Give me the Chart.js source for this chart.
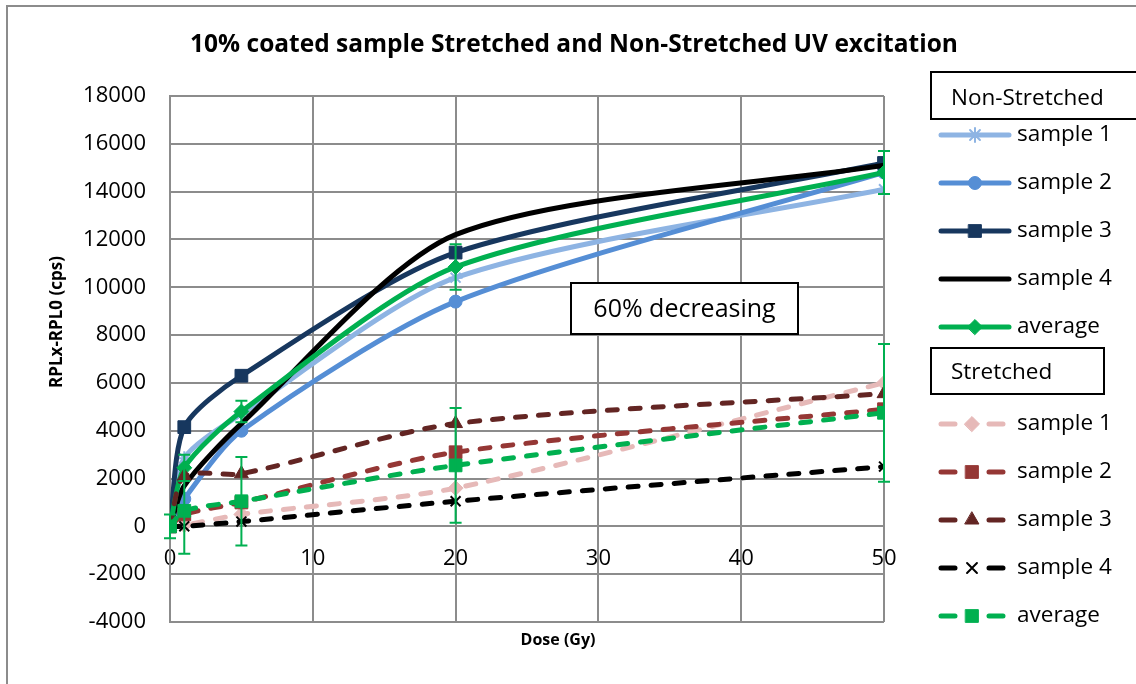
<!DOCTYPE html>
<html>
<head>
<meta charset="utf-8">
<script src="https://cdn.jsdelivr.net/npm/chart.js@4.4.0/dist/chart.umd.min.js"></script>
<style>
html, body { margin: 0; padding: 0; background: #fff; overflow: hidden; }
#wrap { position: relative; width: 1136px; height: 684px; }
#frame { position: absolute; left: 6px; top: 5px; width: 1150px; height: 700px; border: 2px solid #8c8c8c; box-sizing: border-box; pointer-events: none; }
canvas { position: absolute; left: 0; top: 0; }
</style>
</head>
<body>
<div id="wrap">
  <canvas id="myChart" width="1136" height="684"></canvas>
  <div id="frame"></div>
</div>
<script>
// dose points (Gy)
const doses = [0, 1, 5, 20, 50];

// Non-Stretched
const nsSample1 = [0, 2850, 4700, 10400, 14100];
const nsSample2 = [0, 1150, 4000, 9400, 14800];
const nsSample3 = [0, 4150, 6300, 11450, 15200];
const nsSample4 = [0, 1700, 4300, 12200, 15100];
const nsAverage = [0, 2450, 4800, 10850, 14800];
const nsAverageErr = [0, 550, 450, 950, 900];

// Stretched
const stSample1 = [0, 50, 500, 1600, 6000];
const stSample2 = [0, 500, 1000, 3100, 4900];
const stSample3 = [0, 2100, 2200, 4300, 5550];
const stSample4 = [0, 0, 200, 1050, 2500];
const stAverage = [0, 650, 1050, 2550, 4750];
const stAverageErr = [500, 1800, 1850, 2400, 2880];

const legendGroups = ['Non-Stretched', 'Stretched'];
const titleText = '10% coated sample Stretched and Non-Stretched UV excitation';
const noteText = '60% decreasing';

const FONT = "'Open Sans', sans-serif";
const GRID = '#8c8c8c';

function pts(vals) {
    return doses.map((d, i) => ({x: d, y: vals[i]}));
}

function series(label, vals, color, style, radius, dashed, extra) {
    return Object.assign({
        label: label,
        data: pts(vals),
        borderColor: color,
        backgroundColor: color,
        pointBackgroundColor: color,
        pointBorderColor: color,
        pointStyle: style,
        pointRadius: radius,
        pointBorderWidth: 1,
        borderWidth: 5,
        borderDash: dashed ? [10, 13] : [],
        borderCapStyle: 'round',
        tension: 0.26,
        fill: false,
        group: dashed ? 1 : 0
    }, extra || {});
}

const datasets = [
    series('sample 1', nsSample1, '#8eb4e3', 'star', 7, false, {pointBorderWidth: 2}),
    series('sample 2', nsSample2, '#558ed5', 'circle', 6.5, false),
    series('sample 3', nsSample3, '#17375e', 'rect', 9, false),
    series('sample 4', nsSample4, '#000000', false, 0, false),
    series('average', nsAverage, '#00b050', 'rectRot', 7.5, false, {errors: nsAverageErr}),
    series('sample 1', stSample1, '#e6b9b8', 'rectRot', 7.5, true),
    series('sample 2', stSample2, '#953735', 'rect', 9, true),
    series('sample 3', stSample3, '#632523', 'triangle', 8, true),
    series('sample 4', stSample4, '#000000', 'crossRot', 7, true, {pointBorderWidth: 2}),
    series('average', stAverage, '#00b050', 'rect', 9, true, {errors: stAverageErr})
];
// later series drawn on top, like the original
datasets.forEach((d, i) => { d.order = -i; });

const errorBars = {
    id: 'errorBars',
    afterDatasetsDraw(chart) {
        const ctx = chart.ctx;
        const xs = chart.scales.x, ys = chart.scales.y;
        ctx.save();
        chart.data.datasets.forEach(ds => {
            if (!ds.errors) return;
            ctx.strokeStyle = ds.borderColor;
            ctx.lineWidth = 2;
            ds.data.forEach((p, i) => {
                const e = ds.errors[i];
                if (!e) return;
                const px = xs.getPixelForValue(p.x);
                const top = ys.getPixelForValue(p.y + e);
                const bot = ys.getPixelForValue(p.y - e);
                ctx.beginPath();
                ctx.moveTo(px, top); ctx.lineTo(px, bot);
                ctx.moveTo(px - 6, top); ctx.lineTo(px + 6, top);
                ctx.moveTo(px - 6, bot); ctx.lineTo(px + 6, bot);
                ctx.stroke();
            });
        });
        ctx.restore();
    }
};

function drawMarker(ctx, ds, x, y) {
    if (!ds.pointStyle) return;
    ctx.fillStyle = ds.pointBackgroundColor;
    ctx.strokeStyle = ds.pointBorderColor;
    ctx.lineWidth = ds.pointBorderWidth;
    ctx.setLineDash([]);
    Chart.helpers.drawPoint(ctx, {pointStyle: ds.pointStyle, radius: ds.pointRadius, rotation: 0, borderWidth: ds.pointBorderWidth}, x, y);
}

const extras = {
    id: 'extras',
    afterDraw(chart) {
        const ctx = chart.ctx;
        ctx.save();
        ctx.fillStyle = '#000';
        ctx.textAlign = 'center';
        ctx.textBaseline = 'middle';

        // title
        ctx.font = 'bold 24.5px ' + FONT;
        ctx.fillText(titleText, 574, 45);

        // axis titles
        ctx.font = 'bold 16px ' + FONT;
        ctx.fillText('Dose (Gy)', 558, 640);
        ctx.save();
        ctx.translate(57, 322);
        ctx.rotate(-Math.PI / 2);
        ctx.font = 'bold 17px ' + FONT;
        ctx.fillText('RPLx-RPL0 (cps)', 0, 0);
        ctx.restore();

        // note box
        ctx.fillStyle = '#fff';
        ctx.strokeStyle = '#000';
        ctx.lineWidth = 2;
        ctx.fillRect(571, 283, 227, 51);
        ctx.strokeRect(571, 283, 227, 51);
        ctx.fillStyle = '#000';
        ctx.font = '25px ' + FONT;
        ctx.fillText(noteText, 684.5, 310);

        // legend
        const heads = [{x: 931, y: 72, w: 230, h: 47, ty: 99}, {x: 931, y: 348, w: 173, h: 46, ty: 373}];
        const rowStart = [135, 424];
        heads.forEach((h, g) => {
            ctx.fillStyle = '#fff';
            ctx.strokeStyle = '#000';
            ctx.lineWidth = 2;
            ctx.setLineDash([]);
            ctx.fillRect(h.x, h.y, h.w, h.h);
            ctx.strokeRect(h.x, h.y, h.w, h.h);
            ctx.fillStyle = '#000';
            ctx.font = '22.5px ' + FONT;
            ctx.textAlign = 'left';
            ctx.fillText(legendGroups[g], 951, h.ty);
        });
        let rows = [0, 0];
        chart.data.datasets.forEach(ds => {
            const g = ds.group;
            const y = rowStart[g] + rows[g] * 48;
            rows[g]++;
            ctx.strokeStyle = ds.borderColor;
            ctx.lineWidth = 5;
            ctx.lineCap = 'round';
            ctx.setLineDash([]);
            ctx.beginPath();
            let mx;
            if (g === 0) {
                ctx.moveTo(941, y); ctx.lineTo(1009, y);
                mx = 975;
            } else {
                ctx.moveTo(941, y); ctx.lineTo(955, y);
                ctx.moveTo(989, y); ctx.lineTo(1003, y);
                mx = 972;
            }
            ctx.stroke();
            drawMarker(ctx, ds, mx, y);
            ctx.fillStyle = '#000';
            ctx.font = '22.5px ' + FONT;
            ctx.textAlign = 'left';
            ctx.textBaseline = 'middle';
            ctx.fillText(ds.label, 1017, y);
        });
        ctx.restore();
    }
};

const ctx = document.getElementById('myChart').getContext('2d');
const chart = new Chart(ctx, {
    type: 'line',
    data: {datasets: datasets},
    plugins: [errorBars, extras],
    options: {
        responsive: false,
        animation: false,
        devicePixelRatio: 1,
        layout: {padding: {left: 40, right: 252, top: 96, bottom: 62}},
        plugins: {
            legend: {display: false},
            tooltip: {enabled: false},
            title: {display: false}
        },
        scales: {
            x: {
                type: 'linear',
                min: 0,
                max: 50,
                position: {y: 0},
                ticks: {stepSize: 10, color: '#000', font: {family: FONT, size: 22}, padding: 19, maxRotation: 0},
                grid: {color: GRID, lineWidth: 2, drawTicks: false},
                border: {color: GRID, width: 2},
                afterFit(s) { s.height = 0; }
            },
            y: {
                min: -4000,
                max: 18000,
                ticks: {
                    stepSize: 2000,
                    color: '#000',
                    font: {family: FONT, size: 22},
                    padding: 24,
                    callback: v => String(v)
                },
                grid: {color: GRID, lineWidth: 2, drawTicks: false},
                border: {color: GRID, width: 2},
                afterFit(s) { s.width = 130; }
            }
        }
    }
});
</script>
</body>
</html>
